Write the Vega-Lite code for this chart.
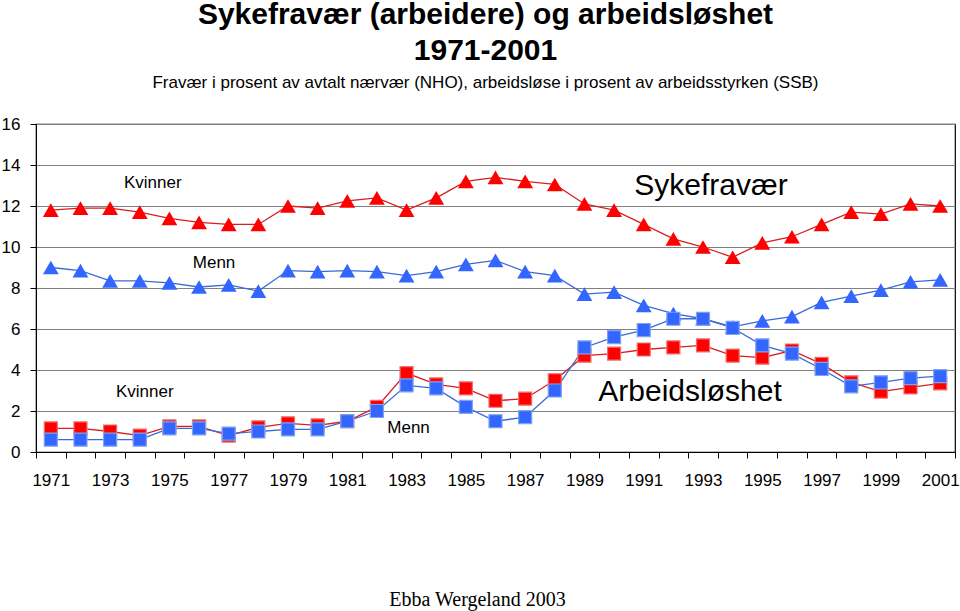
{
  "$schema": "https://vega.github.io/schema/vega-lite/v6.json",
  "width": 919,
  "height": 328,
  "autosize": {"type": "none"},
  "padding": {"left": 36, "top": 124, "right": 5, "bottom": 159},
  "background": "white",
  "title": {
    "text": ["Sykefravær (arbeidere) og arbeidsløshet", "1971-2001"],
    "subtitle": "Fravær i prosent av avtalt nærvær (NHO), arbeidsløse i prosent av arbeidsstyrken (SSB)",
    "font": "Liberation Sans",
    "fontSize": 30,
    "fontWeight": "bold",
    "lineHeight": 36,
    "subtitleFont": "Liberation Sans",
    "subtitleFontSize": 17,
    "subtitleColor": "black",
    "subtitlePadding": 9,
    "color": "black",
    "anchor": "middle",
    "offset": 24,
    "dx": -10
  },
  "config": {
    "view": {"stroke": "black", "strokeWidth": 1.2},
    "font": "Liberation Sans"
  },
  "datasets": {
    "d": [
      {"year":1971,"serie":"Sykefravær","kjonn":"Kvinner","value":11.8},
      {"year":1972,"serie":"Sykefravær","kjonn":"Kvinner","value":11.9},
      {"year":1973,"serie":"Sykefravær","kjonn":"Kvinner","value":11.9},
      {"year":1974,"serie":"Sykefravær","kjonn":"Kvinner","value":11.7},
      {"year":1975,"serie":"Sykefravær","kjonn":"Kvinner","value":11.4},
      {"year":1976,"serie":"Sykefravær","kjonn":"Kvinner","value":11.2},
      {"year":1977,"serie":"Sykefravær","kjonn":"Kvinner","value":11.1},
      {"year":1978,"serie":"Sykefravær","kjonn":"Kvinner","value":11.1},
      {"year":1979,"serie":"Sykefravær","kjonn":"Kvinner","value":12.0},
      {"year":1980,"serie":"Sykefravær","kjonn":"Kvinner","value":11.9},
      {"year":1981,"serie":"Sykefravær","kjonn":"Kvinner","value":12.25},
      {"year":1982,"serie":"Sykefravær","kjonn":"Kvinner","value":12.4},
      {"year":1983,"serie":"Sykefravær","kjonn":"Kvinner","value":11.8},
      {"year":1984,"serie":"Sykefravær","kjonn":"Kvinner","value":12.4},
      {"year":1985,"serie":"Sykefravær","kjonn":"Kvinner","value":13.2},
      {"year":1986,"serie":"Sykefravær","kjonn":"Kvinner","value":13.4},
      {"year":1987,"serie":"Sykefravær","kjonn":"Kvinner","value":13.2},
      {"year":1988,"serie":"Sykefravær","kjonn":"Kvinner","value":13.05},
      {"year":1989,"serie":"Sykefravær","kjonn":"Kvinner","value":12.1},
      {"year":1990,"serie":"Sykefravær","kjonn":"Kvinner","value":11.8},
      {"year":1991,"serie":"Sykefravær","kjonn":"Kvinner","value":11.1},
      {"year":1992,"serie":"Sykefravær","kjonn":"Kvinner","value":10.4},
      {"year":1993,"serie":"Sykefravær","kjonn":"Kvinner","value":10.0},
      {"year":1994,"serie":"Sykefravær","kjonn":"Kvinner","value":9.5},
      {"year":1995,"serie":"Sykefravær","kjonn":"Kvinner","value":10.2},
      {"year":1996,"serie":"Sykefravær","kjonn":"Kvinner","value":10.5},
      {"year":1997,"serie":"Sykefravær","kjonn":"Kvinner","value":11.1},
      {"year":1998,"serie":"Sykefravær","kjonn":"Kvinner","value":11.7},
      {"year":1999,"serie":"Sykefravær","kjonn":"Kvinner","value":11.6},
      {"year":2000,"serie":"Sykefravær","kjonn":"Kvinner","value":12.1},
      {"year":2001,"serie":"Sykefravær","kjonn":"Kvinner","value":12.0},
      {"year":1971,"serie":"Arbeidsløshet","kjonn":"Kvinner","value":1.15},
      {"year":1972,"serie":"Arbeidsløshet","kjonn":"Kvinner","value":1.15},
      {"year":1973,"serie":"Arbeidsløshet","kjonn":"Kvinner","value":1.0},
      {"year":1974,"serie":"Arbeidsløshet","kjonn":"Kvinner","value":0.8},
      {"year":1975,"serie":"Arbeidsløshet","kjonn":"Kvinner","value":1.25},
      {"year":1976,"serie":"Arbeidsløshet","kjonn":"Kvinner","value":1.25},
      {"year":1977,"serie":"Arbeidsløshet","kjonn":"Kvinner","value":0.8},
      {"year":1978,"serie":"Arbeidsløshet","kjonn":"Kvinner","value":1.2},
      {"year":1979,"serie":"Arbeidsløshet","kjonn":"Kvinner","value":1.4},
      {"year":1980,"serie":"Arbeidsløshet","kjonn":"Kvinner","value":1.3},
      {"year":1981,"serie":"Arbeidsløshet","kjonn":"Kvinner","value":1.5},
      {"year":1982,"serie":"Arbeidsløshet","kjonn":"Kvinner","value":2.2},
      {"year":1983,"serie":"Arbeidsløshet","kjonn":"Kvinner","value":3.85},
      {"year":1984,"serie":"Arbeidsløshet","kjonn":"Kvinner","value":3.3},
      {"year":1985,"serie":"Arbeidsløshet","kjonn":"Kvinner","value":3.1},
      {"year":1986,"serie":"Arbeidsløshet","kjonn":"Kvinner","value":2.5},
      {"year":1987,"serie":"Arbeidsløshet","kjonn":"Kvinner","value":2.6},
      {"year":1988,"serie":"Arbeidsløshet","kjonn":"Kvinner","value":3.5},
      {"year":1989,"serie":"Arbeidsløshet","kjonn":"Kvinner","value":4.7},
      {"year":1990,"serie":"Arbeidsløshet","kjonn":"Kvinner","value":4.8},
      {"year":1991,"serie":"Arbeidsløshet","kjonn":"Kvinner","value":5.0},
      {"year":1992,"serie":"Arbeidsløshet","kjonn":"Kvinner","value":5.1},
      {"year":1993,"serie":"Arbeidsløshet","kjonn":"Kvinner","value":5.2},
      {"year":1994,"serie":"Arbeidsløshet","kjonn":"Kvinner","value":4.7},
      {"year":1995,"serie":"Arbeidsløshet","kjonn":"Kvinner","value":4.6},
      {"year":1996,"serie":"Arbeidsløshet","kjonn":"Kvinner","value":4.95},
      {"year":1997,"serie":"Arbeidsløshet","kjonn":"Kvinner","value":4.3},
      {"year":1998,"serie":"Arbeidsløshet","kjonn":"Kvinner","value":3.4},
      {"year":1999,"serie":"Arbeidsløshet","kjonn":"Kvinner","value":2.95},
      {"year":2000,"serie":"Arbeidsløshet","kjonn":"Kvinner","value":3.15},
      {"year":2001,"serie":"Arbeidsløshet","kjonn":"Kvinner","value":3.35},
      {"year":1971,"serie":"Sykefravær","kjonn":"Menn","value":9.0},
      {"year":1972,"serie":"Sykefravær","kjonn":"Menn","value":8.85},
      {"year":1973,"serie":"Sykefravær","kjonn":"Menn","value":8.35},
      {"year":1974,"serie":"Sykefravær","kjonn":"Menn","value":8.35},
      {"year":1975,"serie":"Sykefravær","kjonn":"Menn","value":8.25},
      {"year":1976,"serie":"Sykefravær","kjonn":"Menn","value":8.05},
      {"year":1977,"serie":"Sykefravær","kjonn":"Menn","value":8.15},
      {"year":1978,"serie":"Sykefravær","kjonn":"Menn","value":7.85},
      {"year":1979,"serie":"Sykefravær","kjonn":"Menn","value":8.85},
      {"year":1980,"serie":"Sykefravær","kjonn":"Menn","value":8.8},
      {"year":1981,"serie":"Sykefravær","kjonn":"Menn","value":8.85},
      {"year":1982,"serie":"Sykefravær","kjonn":"Menn","value":8.8},
      {"year":1983,"serie":"Sykefravær","kjonn":"Menn","value":8.6},
      {"year":1984,"serie":"Sykefravær","kjonn":"Menn","value":8.8},
      {"year":1985,"serie":"Sykefravær","kjonn":"Menn","value":9.15},
      {"year":1986,"serie":"Sykefravær","kjonn":"Menn","value":9.35},
      {"year":1987,"serie":"Sykefravær","kjonn":"Menn","value":8.8},
      {"year":1988,"serie":"Sykefravær","kjonn":"Menn","value":8.6},
      {"year":1989,"serie":"Sykefravær","kjonn":"Menn","value":7.7},
      {"year":1990,"serie":"Sykefravær","kjonn":"Menn","value":7.8},
      {"year":1991,"serie":"Sykefravær","kjonn":"Menn","value":7.15},
      {"year":1992,"serie":"Sykefravær","kjonn":"Menn","value":6.75},
      {"year":1993,"serie":"Sykefravær","kjonn":"Menn","value":6.5},
      {"year":1994,"serie":"Sykefravær","kjonn":"Menn","value":6.1},
      {"year":1995,"serie":"Sykefravær","kjonn":"Menn","value":6.4},
      {"year":1996,"serie":"Sykefravær","kjonn":"Menn","value":6.6},
      {"year":1997,"serie":"Sykefravær","kjonn":"Menn","value":7.3},
      {"year":1998,"serie":"Sykefravær","kjonn":"Menn","value":7.6},
      {"year":1999,"serie":"Sykefravær","kjonn":"Menn","value":7.9},
      {"year":2000,"serie":"Sykefravær","kjonn":"Menn","value":8.3},
      {"year":2001,"serie":"Sykefravær","kjonn":"Menn","value":8.4},
      {"year":1971,"serie":"Arbeidsløshet","kjonn":"Menn","value":0.6},
      {"year":1972,"serie":"Arbeidsløshet","kjonn":"Menn","value":0.6},
      {"year":1973,"serie":"Arbeidsløshet","kjonn":"Menn","value":0.6},
      {"year":1974,"serie":"Arbeidsløshet","kjonn":"Menn","value":0.6},
      {"year":1975,"serie":"Arbeidsløshet","kjonn":"Menn","value":1.15},
      {"year":1976,"serie":"Arbeidsløshet","kjonn":"Menn","value":1.15},
      {"year":1977,"serie":"Arbeidsløshet","kjonn":"Menn","value":0.9},
      {"year":1978,"serie":"Arbeidsløshet","kjonn":"Menn","value":1.0},
      {"year":1979,"serie":"Arbeidsløshet","kjonn":"Menn","value":1.1},
      {"year":1980,"serie":"Arbeidsløshet","kjonn":"Menn","value":1.1},
      {"year":1981,"serie":"Arbeidsløshet","kjonn":"Menn","value":1.5},
      {"year":1982,"serie":"Arbeidsløshet","kjonn":"Menn","value":2.0},
      {"year":1983,"serie":"Arbeidsløshet","kjonn":"Menn","value":3.25},
      {"year":1984,"serie":"Arbeidsløshet","kjonn":"Menn","value":3.1},
      {"year":1985,"serie":"Arbeidsløshet","kjonn":"Menn","value":2.2},
      {"year":1986,"serie":"Arbeidsløshet","kjonn":"Menn","value":1.5},
      {"year":1987,"serie":"Arbeidsløshet","kjonn":"Menn","value":1.7},
      {"year":1988,"serie":"Arbeidsløshet","kjonn":"Menn","value":3.0},
      {"year":1989,"serie":"Arbeidsløshet","kjonn":"Menn","value":5.1},
      {"year":1990,"serie":"Arbeidsløshet","kjonn":"Menn","value":5.6},
      {"year":1991,"serie":"Arbeidsløshet","kjonn":"Menn","value":5.95},
      {"year":1992,"serie":"Arbeidsløshet","kjonn":"Menn","value":6.5},
      {"year":1993,"serie":"Arbeidsløshet","kjonn":"Menn","value":6.5},
      {"year":1994,"serie":"Arbeidsløshet","kjonn":"Menn","value":6.05},
      {"year":1995,"serie":"Arbeidsløshet","kjonn":"Menn","value":5.2},
      {"year":1996,"serie":"Arbeidsløshet","kjonn":"Menn","value":4.8},
      {"year":1997,"serie":"Arbeidsløshet","kjonn":"Menn","value":4.05},
      {"year":1998,"serie":"Arbeidsløshet","kjonn":"Menn","value":3.2},
      {"year":1999,"serie":"Arbeidsløshet","kjonn":"Menn","value":3.4},
      {"year":2000,"serie":"Arbeidsløshet","kjonn":"Menn","value":3.6},
      {"year":2001,"serie":"Arbeidsløshet","kjonn":"Menn","value":3.7}
    ],
    "labels": [
      {"label":"Kvinner","year":1974,"value":13.12,"pos":"a"},
      {"label":"Menn","year":1976,"value":9.22,"pos":"b"},
      {"label":"Kvinner","year":1974,"value":2.93,"pos":"c"},
      {"label":"Menn","year":1983,"value":1.17,"pos":"d"},
      {"label":"Sykefravær","year":1993,"value":13.0,"pos":"e"},
      {"label":"Arbeidsløshet","year":1993,"value":2.93,"pos":"f"}
    ]
  },
  "encoding": {
    "x": {
      "field": "year",
      "type": "ordinal",
      "scale": {"type": "band", "paddingInner": 0, "paddingOuter": 0},
      "axis": {
        "title": "Ebba Wergeland 2003",
        "titleFont": "Liberation Serif",
        "titleFontSize": 20,
        "titleFontWeight": "normal",
        "titleColor": "black",
        "titlePadding": 101,
        "titleX": 441,
        "labelExpr": "datum.value % 2 == 1 ? datum.label : ''",
        "labelAngle": 0,
        "labelOverlap": false,
        "labelFontSize": 17,
        "labelColor": "black",
        "labelPadding": 14,
        "tickBand": "extent",
        "tickSize": 6,
        "tickColor": "black",
        "domainColor": "black",
        "grid": false
      }
    },
    "y": {
      "field": "value",
      "type": "quantitative",
      "scale": {"domain": [0, 16], "nice": false},
      "axis": {
        "title": null,
        "values": [0, 2, 4, 6, 8, 10, 12, 14, 16],
        "grid": true,
        "gridColor": "#808080",
        "gridWidth": 1,
        "labelFontSize": 17,
        "labelColor": "black",
        "labelPadding": 10,
        "tickSize": 6,
        "tickColor": "black",
        "domainColor": "black"
      }
    }
  },
  "layer": [
    {
      "data": {"name": "d"},
      "mark": {"type": "line", "strokeWidth": 1.3},
      "encoding": {
        "detail": {"field": "serie"},
        "color": {
          "field": "kjonn",
          "type": "nominal",
          "scale": {"domain": ["Kvinner", "Menn"], "range": ["#D81E1E", "#3A6AD8"]},
          "legend": null
        }
      }
    },
    {
      "data": {"name": "d"},
      "transform": [{"filter": "datum.serie == 'Sykefravær'"}],
      "mark": {"type": "point", "shape": "triangle-up", "filled": true, "size": 250, "opacity": 1},
      "encoding": {
        "fill": {
          "field": "kjonn",
          "type": "nominal",
          "scale": {"domain": ["Kvinner", "Menn"], "range": ["#FF0000", "#3366FF"]},
          "legend": null
        }
      }
    },
    {
      "data": {"name": "d"},
      "transform": [{"filter": "datum.serie == 'Arbeidsløshet'"}],
      "mark": {"type": "point", "shape": "square", "filled": true, "size": 170, "opacity": 1, "strokeWidth": 1.2},
      "encoding": {
        "fill": {
          "field": "kjonn",
          "type": "nominal",
          "scale": {"domain": ["Kvinner", "Menn"], "range": ["#FF0000", "#3366FF"]},
          "legend": null
        },
        "stroke": {
          "field": "kjonn",
          "type": "nominal",
          "scale": {"domain": ["Kvinner", "Menn"], "range": ["#F07070", "#7FA3F0"]},
          "legend": null
        }
      }
    },
    {
      "data": {"name": "labels"},
      "transform": [{"filter": "datum.pos == 'a'"}],
      "mark": {"type": "text", "fontSize": 17, "dx": 13, "align": "center", "baseline": "middle", "color": "black"},
      "encoding": {"text": {"field": "label"}}
    },
    {
      "data": {"name": "labels"},
      "transform": [{"filter": "datum.pos == 'b'"}],
      "mark": {"type": "text", "fontSize": 17, "dx": 15, "align": "center", "baseline": "middle", "color": "black"},
      "encoding": {"text": {"field": "label"}}
    },
    {
      "data": {"name": "labels"},
      "transform": [{"filter": "datum.pos == 'c'"}],
      "mark": {"type": "text", "fontSize": 17, "dx": 5, "align": "center", "baseline": "middle", "color": "black"},
      "encoding": {"text": {"field": "label"}}
    },
    {
      "data": {"name": "labels"},
      "transform": [{"filter": "datum.pos == 'd'"}],
      "mark": {"type": "text", "fontSize": 17, "dx": 2, "align": "center", "baseline": "middle", "color": "black"},
      "encoding": {"text": {"field": "label"}}
    },
    {
      "data": {"name": "labels"},
      "transform": [{"filter": "datum.pos == 'e'"}],
      "mark": {"type": "text", "fontSize": 30, "dx": 8, "align": "center", "baseline": "middle", "color": "black"},
      "encoding": {"text": {"field": "label"}}
    },
    {
      "data": {"name": "labels"},
      "transform": [{"filter": "datum.pos == 'f'"}],
      "mark": {"type": "text", "fontSize": 30, "dx": -13, "align": "center", "baseline": "middle", "color": "black"},
      "encoding": {"text": {"field": "label"}}
    }
  ]
}
